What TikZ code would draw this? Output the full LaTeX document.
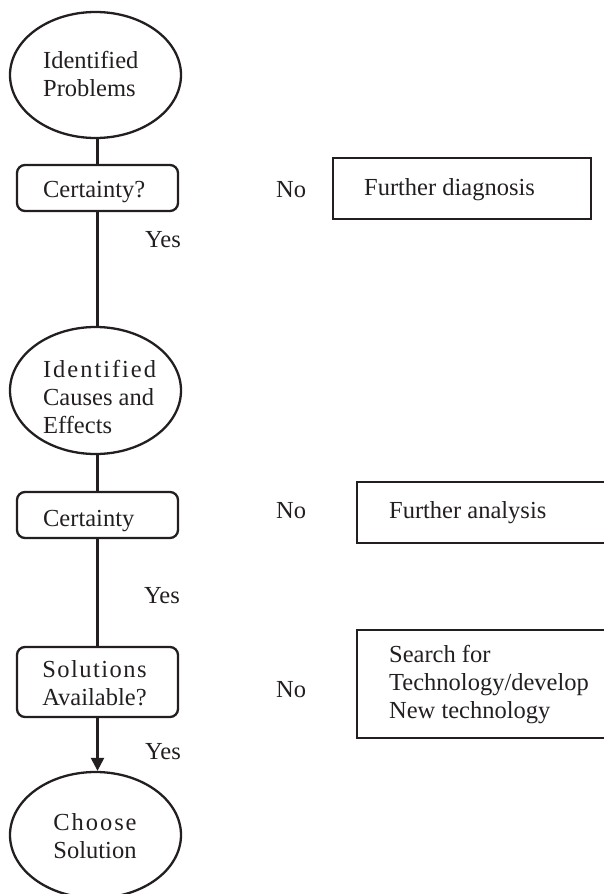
\documentclass[tikz,border=0pt]{standalone}
\usepackage{fontspec}
\setmainfont{Liberation Serif}
\usetikzlibrary{shapes.geometric,arrows.meta}
\definecolor{ink}{HTML}{231F20}
\begin{document}
\begin{tikzpicture}[x=1pt,y=-1pt,
  line width=2.3pt,
  every node/.style={font=\fontsize{24.5}{28}\selectfont, text=ink},
  oval/.style={draw=ink, ellipse, minimum width=171pt, minimum height=126pt, inner sep=0pt},
  rbox/.style={draw=ink, rectangle, rounded corners=8pt, minimum width=161pt, inner sep=0pt},
  sbox/.style={draw=ink, rectangle, inner sep=0pt},
  txt/.style={inner sep=0pt, align=left, anchor=base west},
  ctxt/.style={inner sep=0pt, align=center, anchor=base},
  conn/.style={draw=ink, line width=2.3pt}]
\useasboundingbox (0,0) rectangle (604,894);
\clip (0,0) rectangle (604,894);
% shapes
\node[oval] (e1) at (95.5,75) {};
\node[rbox, minimum height=46pt] (b1) at (97.5,188) {};
\node[oval, minimum height=127pt] (e2) at (95.5,390.5) {};
\node[rbox, minimum height=46pt] (b2) at (97.5,515) {};
\node[rbox, minimum height=70pt] (b3) at (97.5,682) {};
\node[oval] (e3) at (95.5,835) {};
\node[sbox, minimum width=258pt, minimum height=61pt] (r1) at (462,188.5) {};
\node[sbox, minimum width=300pt, minimum height=61pt] (r2) at (507,512.5) {};
\node[sbox, minimum width=300pt, minimum height=108pt] (r3) at (507,684) {};
% connectors
\draw[conn] (b1.north) -- (b1.north |- e1.south);
\draw[conn] (b1.south) -- (b1.south |- e2.north);
\draw[conn] (b2.north) -- (b2.north |- e2.south);
\draw[conn] (b2.south) -- (b3.north);
\draw[conn, -{Triangle[width=13pt,length=13pt]}] (b3.south) -- (b3.south |- e3.north);
% texts (multi-line nodes: base = last line)
\node[txt] (t1) at (42,96) {Identified\\Problems};
\node[txt] (t2) at (42,197) {Certainty?};
\node[txt] (no1) at (275,197) {No};
\node[txt] (t3) at (363,195) {Further diagnosis};
\node[txt] (y1) at (144,247) {Yes};
\node[txt] (t4) at (42,433) {{\addfontfeature{LetterSpace=8}Identified}\\Causes and\\Effects};
\node[txt] (t5) at (42,526) {Certainty};
\node[txt] (no2) at (275,518) {No};
\node[txt] (t6) at (388,518) {Further analysis};
\node[txt] (y2) at (143,603) {Yes};
\node[ctxt] (t7) at (94.5,705) {{\addfontfeature{LetterSpace=6}Solutions}\\Available?};
\node[txt] (no3) at (275,697) {No};
\node[txt] (t8) at (388,718) {Search for\\Technology/develop\\New technology};
\node[txt] (y3) at (144,759) {Yes};
\node[ctxt] (t9) at (95,858) {{\addfontfeature{LetterSpace=8}Choose}\\Solution};
\end{tikzpicture}
\end{document}
